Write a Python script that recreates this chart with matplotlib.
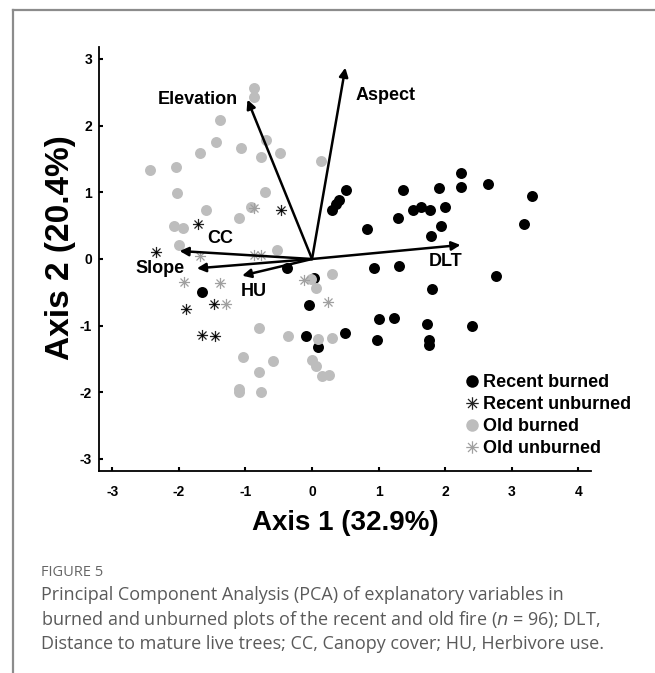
import matplotlib
matplotlib.use("Agg")
import matplotlib.pyplot as plt
from matplotlib.path import Path
from matplotlib.lines import Line2D

# ---------------- data ----------------
recent_burned_x = [0.51, 0.40, 0.36, 0.30, 1.36, 0.83, 1.29, 1.52, 1.64, 1.77, 1.90, 1.99, 1.94, 1.79,
                   2.24, 2.23, 2.64, 3.30, 3.19, 0.03, -0.04, 0.93, 1.30, 1.80, 2.76, 1.00, 1.23, 1.73,
                   2.41, 0.97, 1.75, 1.75, -0.09, 0.49, 0.09, -0.37, -1.66]
recent_burned_y = [1.03, 0.89, 0.82, 0.74, 1.04, 0.45, 0.61, 0.73, 0.78, 0.74, 1.06, 0.78, 0.50, 0.34,
                   1.29, 1.08, 1.13, 0.95, 0.53, -0.29, -0.69, -0.14, -0.11, -0.45, -0.26, -0.90, -0.89,
                   -0.97, -1.01, -1.22, -1.21, -1.29, -1.16, -1.11, -1.32, -0.13, -0.50]

recent_unburned_x = [-2.34, -1.71, -0.46, -1.89, -1.47, -1.65, -1.46]
recent_unburned_y = [0.11, 0.52, 0.73, -0.75, -0.68, -1.14, -1.16]

old_burned_x = [-0.87, -0.87, -1.38, -1.44, -1.68, -1.06, -0.69, -0.77, -0.48, -2.44, -2.04, 0.14,
                -2.03, -0.71, -1.60, -0.91, -1.09, -2.07, -1.94, -2.00, -0.52, 0.30, -0.02, 0.06,
                0.09, 0.30, -0.79, -0.36, -1.04, -0.58, -0.80, -1.09, -1.09, -0.76, 0.00, 0.06, 0.15, 0.25]
old_burned_y = [2.56, 2.43, 2.08, 1.76, 1.59, 1.67, 1.78, 1.53, 1.59, 1.34, 1.38, 1.47, 0.99, 1.00,
                0.74, 0.78, 0.62, 0.49, 0.47, 0.21, 0.13, -0.23, -0.30, -0.43, -1.20, -1.18, -1.03,
                -1.15, -1.47, -1.53, -1.70, -1.95, -1.99, -1.99, -1.51, -1.61, -1.76, -1.74]

old_unburned_x = [-1.68, -1.93, -1.39, -1.29, -0.87, -0.77, -0.12, 0.24, -0.87]
old_unburned_y = [0.04, -0.34, -0.36, -0.68, 0.06, 0.06, -0.31, -0.65, 0.77]

vector_names = ["Elevation", "Aspect", "DLT", "CC", "Slope", "HU"]
vector_x = [-0.97, 0.50, 2.23, -1.99, -1.73, -1.05]
vector_y = [2.39, 2.87, 0.21, 0.12, -0.14, -0.25]
label_x = [-1.12, 0.65, 2.00, -1.38, -2.28, -0.87]
label_y = [2.40, 2.45, -0.04, 0.31, -0.14, -0.49]
label_ha = ["right", "left", "center", "center", "center", "center"]

legend_labels = ["Recent burned", "Recent unburned", "Old burned", "Old unburned"]
x_ticks = [-3, -2, -1, 0, 1, 2, 3, 4]
y_ticks = [-3, -2, -1, 0, 1, 2, 3]
x_label = "Axis 1 (32.9%)"
y_label = "Axis 2 (20.4%)"
caption_title = "FIGURE 5"
caption_text = ("Principal Component Analysis (PCA) of explanatory variables in\n"
                "burned and unburned plots of the recent and old fire ($\\it{n}$ = 96); DLT,\n"
                "Distance to mature live trees; CC, Canopy cover; HU, Herbivore use.")

# ---------------- style ----------------
FONT = ["Liberation Sans", "DejaVu Sans"]
plt.rcParams["font.family"] = FONT

star = Path([(-1, 0), (1, 0), (0, -1), (0, 1), (-0.72, -0.72), (0.72, 0.72), (-0.72, 0.72), (0.72, -0.72)],
            [Path.MOVETO, Path.LINETO] * 4)

fig = plt.figure(figsize=(6.55, 6.73), dpi=100)
ax = fig.add_axes([99 / 655, 1 - 471 / 673, 492 / 655, 424 / 673])

ax.plot(recent_burned_x, recent_burned_y, "o", color="black", ms=7.9, mew=0, zorder=3)
ax.plot(old_burned_x, old_burned_y, "o", color="#bdbdbd", ms=7.9, mew=0, zorder=3)
ax.plot(recent_unburned_x, recent_unburned_y, ls="none", marker=star, color="#222222", ms=8, mew=0.9, zorder=4)
ax.plot(recent_unburned_x, recent_unburned_y, "o", color="black", ms=1.8, mew=0, zorder=4)
ax.plot(old_unburned_x, old_unburned_y, ls="none", marker=star, color="#a0a0a0", ms=8, mew=0.9, zorder=4)

for name, vx, vy, lx, ly, ha in zip(vector_names, vector_x, vector_y, label_x, label_y, label_ha):
    ax.annotate("", xy=(vx, vy), xytext=(0, 0),
                arrowprops=dict(arrowstyle="-|>", color="black", lw=1.8, mutation_scale=13,
                                shrinkA=0, shrinkB=0), zorder=5)
    ax.text(lx, ly, name, ha=ha, va="center", fontsize=13, fontweight="bold", zorder=6)

ax.set_xlim(-3.2, 4.19)
ax.set_ylim(-3.18, 3.18)
ax.set_xticks(x_ticks)
ax.set_yticks(y_ticks)
ax.set_xticklabels([str(t) for t in x_ticks])
ax.set_yticklabels([str(t) for t in y_ticks])
ax.tick_params(direction="in", length=3, width=1.5, labelsize=10)
ax.tick_params(axis="x", pad=10)
ax.tick_params(axis="y", pad=5)
for lab in ax.get_xticklabels() + ax.get_yticklabels():
    lab.set_fontweight("bold")
for s in ["top", "right"]:
    ax.spines[s].set_visible(False)
for s in ["left", "bottom"]:
    ax.spines[s].set_linewidth(1.3)

ax.set_xlabel(x_label, fontsize=20, fontweight="bold", labelpad=8)
ax.set_ylabel(y_label, fontsize=24, fontweight="bold")
ax.yaxis.set_label_coords(-0.047, 0.526)

handles = [
    Line2D([], [], ls="none", marker="o", color="black", ms=9, mew=0),
    Line2D([], [], ls="none", marker=star, color="#222222", ms=9, mew=0.9),
    Line2D([], [], ls="none", marker="o", color="#bdbdbd", ms=9, mew=0),
    Line2D([], [], ls="none", marker=star, color="#a0a0a0", ms=9, mew=0.9),
]
leg = ax.legend(handles, legend_labels, loc="upper left", bbox_to_anchor=(0.745, 0.228),
                frameon=False, handlelength=0.7, handletextpad=0.25, labelspacing=0.27,
                borderpad=0, borderaxespad=0, prop=dict(family=FONT, weight="bold", size=13))

# frame of the figure panel
fig.add_artist(Line2D([13 / 655, 1.0], [1 - 10 / 673, 1 - 10 / 673], color="#8c8c8c", lw=1.6))
fig.add_artist(Line2D([13 / 655, 13 / 655], [0, 1 - 10 / 673], color="#8c8c8c", lw=1.6))

# caption
fig.text(41 / 655, 1 - 572 / 673, caption_title, fontsize=10.5, color="#666666",
         family=["Open Sans", "DejaVu Sans"], va="center", ha="left")
fig.text(41 / 655, 1 - 586 / 673, caption_text, fontsize=13, color="#5a5a5a",
         family=["Open Sans", "DejaVu Sans"], va="top", ha="left", linespacing=1.3)

fig.savefig("out.png", dpi=100)
